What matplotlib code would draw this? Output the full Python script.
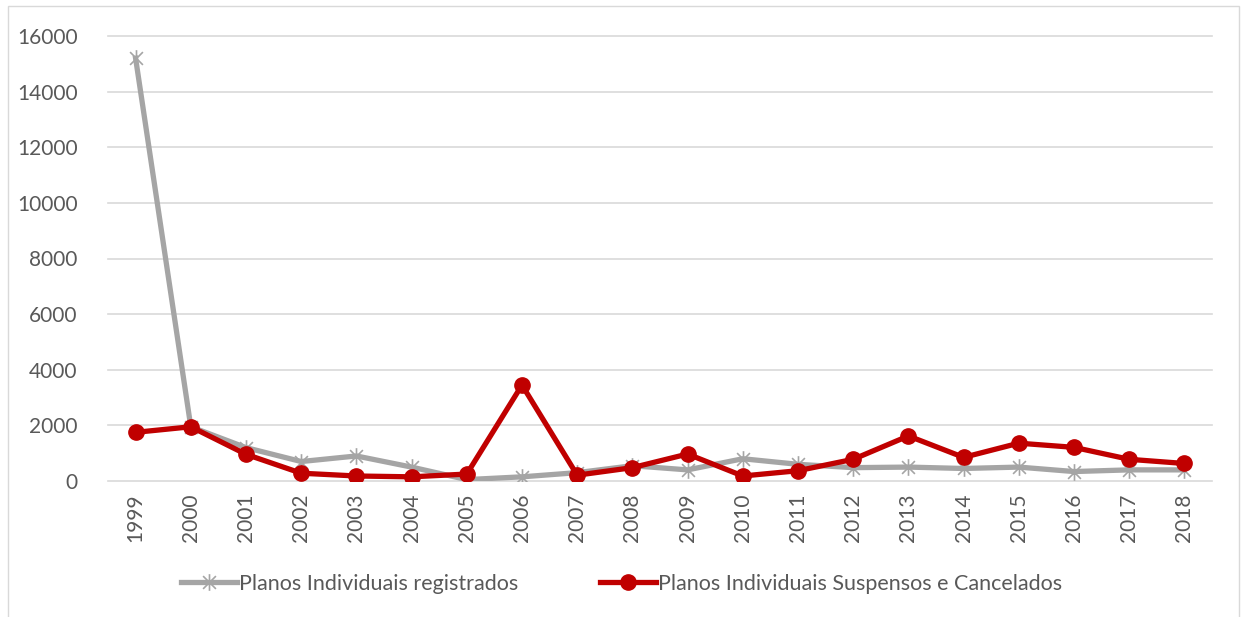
import matplotlib
matplotlib.use("Agg")
import matplotlib.pyplot as plt
from matplotlib.path import Path
from matplotlib.patches import Rectangle

# dados
anos = [str(a) for a in range(1999, 2019)]
registrados = [15200, 1950, 1200, 700, 900, 500, 50, 150, 300, 550,
               400, 800, 600, 480, 500, 450, 500, 340, 400, 400]
suspensos = [1750, 1950, 960, 280, 180, 150, 250, 3450, 210, 480,
             970, 180, 370, 780, 1620, 850, 1360, 1210, 780, 630]

plt.rcParams['font.family'] = ['Lato', 'DejaVu Sans']

# marcador estrela (x + barra vertical)
estrela = Path([(-1, -1), (1, 1), (-1, 1), (1, -1), (0, -1.3), (0, 1.3)],
               [Path.MOVETO, Path.LINETO, Path.MOVETO, Path.LINETO, Path.MOVETO, Path.LINETO])

fig = plt.figure(figsize=(12.43, 6.17), dpi=100)
ax = fig.add_axes([108 / 1243, 1 - 481 / 617, (1212 - 108) / 1243, (481 - 36) / 617])

x = list(range(len(anos)))
ax.plot(x, registrados, color='#A5A5A5', lw=3.8, marker=estrela, ms=12,
        mew=1.2, mec='#A5A5A5', mfc='none', label='Planos Individuais registrados', zorder=3)
ax.plot(x, suspensos, color='#C00000', lw=3.8, marker='o', ms=11,
        mec='#C00000', mfc='#C00000', label='Planos Individuais Suspensos e Cancelados', zorder=4)

ax.set_xlim(-0.5, len(anos) - 0.5)
ax.set_ylim(0, 16000)
ax.set_yticks(range(0, 16001, 2000))
ax.set_xticks(x)
ax.set_xticklabels(anos, rotation=90)
ax.grid(axis='y', color='#D9D9D9', lw=1.2)
for gl in ax.get_ygridlines():
    gl.set_clip_on(False)
ax.set_axisbelow(True)
for s in ax.spines.values():
    s.set_visible(False)
ax.tick_params(length=0, colors='#595959', labelsize=15, pad=9)
ax.tick_params(axis='y', pad=22)

leg = fig.legend(loc='center', bbox_to_anchor=(0.5, 1 - 584 / 617), ncol=2, frameon=False,
                 fontsize=15.5, columnspacing=3.8, handlelength=2.6, handletextpad=0.1)
for t in leg.get_texts():
    t.set_color('#595959')

# moldura
fig.patches.append(Rectangle((8 / 1243, -0.01), 1 - 12 / 1243, 1 - 6 / 617 + 0.01,
                             transform=fig.transFigure, fill=False, ec='#D9D9D9', lw=1))

fig.savefig('out.png', dpi=100)
